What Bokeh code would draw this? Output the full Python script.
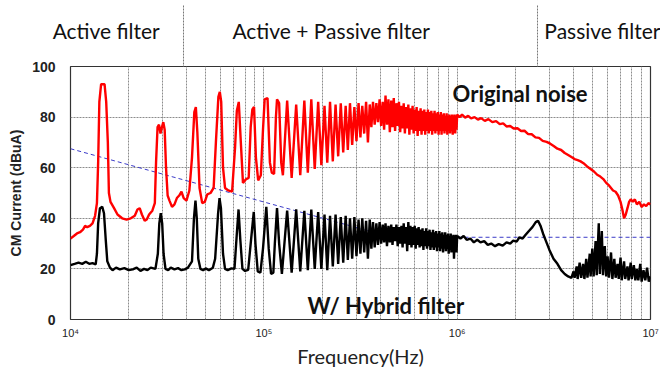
import numpy as np
from bokeh.plotting import figure
from bokeh.models import FixedTicker, Label, LogAxis
from bokeh.embed import file_html
from bokeh.resources import INLINE

# ---------------- data ----------------
# red "Original noise": low-frequency part (Hz, dBuA)
red_low_f = [1.0e4, 1.04e4, 1.08e4, 1.12e4, 1.16e4, 1.19e4, 1.22e4, 1.26e4, 1.3e4, 1.34e4,
             1.37e4, 1.39e4, 1.41e4, 1.44e4, 1.5e4, 1.53e4, 1.56e4, 1.58e4, 1.61e4, 1.68e4,
             1.75e4, 1.85e4, 1.95e4, 2.05e4, 2.15e4, 2.22e4, 2.28e4, 2.34e4, 2.42e4, 2.48e4,
             2.55e4, 2.65e4, 2.73e4, 2.77e4, 2.82e4, 2.87e4, 2.92e4, 2.97e4, 3.02e4, 3.07e4,
             3.12e4, 3.18e4, 3.25e4, 3.35e4, 3.45e4, 3.55e4, 3.65e4, 3.75e4, 3.85e4, 3.98e4,
             4.12e4, 4.25e4, 4.37e4, 4.45e4, 4.53e4, 4.65e4, 4.8e4, 4.95e4, 5.1e4, 5.3e4,
             5.5e4, 5.65e4, 5.82e4, 5.92e4, 6.02e4, 6.15e4, 6.3e4, 6.55e4, 6.85e4, 7.1e4,
             7.25e4, 7.42e4, 7.58e4, 7.8e4, 8.1e4, 8.35e4, 8.55e4, 8.72e4, 8.9e4, 9.1e4,
             9.35e4, 9.65e4, 9.9e4, 1.01e5, 1.045e5, 1.075e5, 1.1e5, 1.13e5, 1.155e5, 1.17e5,
             1.2e5, 1.23e5, 1.255e5]
red_low_v = [32, 33, 34, 34.5, 35.5, 37, 36.5, 37, 38, 41,
             46, 62, 86, 93, 93, 86, 70, 50, 46.5, 44,
             41.5, 40, 39.5, 40, 41, 43.5, 44, 41.5, 39, 39.5,
             41.5, 43, 46, 62, 76, 77, 73.5, 76, 78, 75,
             60, 49, 47, 44.5, 45.5, 48, 49, 50.5, 48, 47,
             51, 64, 82, 84, 74, 52, 46, 46.5, 49.5, 50,
             52, 70, 88, 90, 86, 60, 52, 51, 50.5, 68,
             82.5, 86, 72, 54, 55.5, 56, 76, 83, 84, 64,
             55, 57, 75, 87, 87.5, 62, 58, 57.5, 80, 87,
             85.5, 62, 57]

# harmonic frequencies of the dense part (kHz)
harm_khz = [132, 147, 162, 176, 191, 206, 220, 235, 250, 265,
            279, 294, 309, 323, 338, 353, 367, 382, 397, 412,
            426, 441, 456, 470, 485, 500, 515, 529, 544, 559,
            573, 588, 603, 617, 632, 647, 662, 676, 691, 706,
            720, 735, 750, 764, 779, 794, 809, 823, 838, 853,
            867, 882, 897, 911, 926, 941, 956, 970, 985]
red_peak = [86.5, 85, 86.5, 87, 86, 84.5, 86, 85, 85.5, 84.5,
            85.5, 84, 85.5, 84.5, 86, 85, 86, 85.5, 87, 86,
            88.5, 87, 86.5, 87.5, 85.5, 86, 84.5, 85.5, 84, 85,
            83.5, 84.5, 83, 84, 82.5, 83.5, 82.5, 83, 82, 83,
            82, 82.5, 81.5, 82.5, 81.5, 82, 81, 82, 81, 81.5,
            80.5, 81.5, 80.5, 81, 80.5, 81, 80.5, 81, 80.5]
red_trough = [56, 57, 58, 59.5, 61, 62, 62.5, 64.5, 66, 67,
              69, 70.5, 72, 73.5, 70, 76, 77, 78, 76.5, 75,
              77, 74, 76, 74.5, 76.5, 74, 75.5, 73.5, 75.5, 73,
              75, 73.5, 74.5, 72.5, 74.5, 73, 74.5, 73, 74.5, 73.5,
              74.5, 73, 74.5, 73.5, 74.5, 73, 74.5, 73, 74.5, 73.5,
              74.5, 73, 74.5, 73.5, 74.5, 73, 74.5, 73.5, 75]

red_high_f = [1.0e6, 1.03e6, 1.06e6, 1.1e6, 1.14e6, 1.18e6, 1.23e6, 1.28e6, 1.33e6, 1.39e6,
              1.45e6, 1.52e6, 1.59e6, 1.66e6, 1.73e6, 1.8e6, 1.88e6, 1.96e6, 2.05e6, 2.14e6,
              2.23e6, 2.33e6, 2.43e6, 2.54e6, 2.65e6, 2.77e6, 2.9e6, 3.03e6, 3.17e6, 3.3e6,
              3.45e6, 3.6e6, 3.75e6, 3.9e6, 4.05e6, 4.2e6, 4.35e6, 4.5e6, 4.7e6, 4.9e6,
              5.1e6, 5.3e6, 5.5e6, 5.7e6, 5.9e6, 6.1e6, 6.4e6, 6.6e6, 6.8e6, 7.0e6,
              7.15e6, 7.3e6, 7.45e6, 7.6e6, 7.75e6, 7.9e6, 8.1e6, 8.3e6, 8.5e6, 8.75e6,
              9.0e6, 9.25e6, 9.5e6, 9.75e6, 1.0e7]
red_high_v = [81, 80, 81, 79.8, 80.5, 79.5, 80, 79, 79.6, 78.5,
              79.2, 78, 78.4, 77.2, 77.5, 76.3, 76.5, 75.5, 75.6, 74.5,
              74.6, 73.3, 73.2, 72, 71.8, 70.6, 70.2, 69.5, 68.5, 67.5,
              67, 65.8, 65, 64.2, 63.4, 63, 62.5, 61.8, 60.5, 59.5,
              58.5, 57.2, 56.5, 55.5, 54, 53, 51, 50.5, 49, 46.5,
              43.5, 40, 41.5, 44, 46.5, 47.5, 46.5, 47.5, 45.5, 46.5,
              44.5, 45.5, 44.8, 46, 45.5]

# black "W/ Hybrid filter"
blk_low_f = [1.0e4, 1.05e4, 1.1e4, 1.15e4, 1.2e4, 1.25e4, 1.3e4, 1.35e4, 1.37e4, 1.39e4,
             1.42e4, 1.46e4, 1.49e4, 1.52e4, 1.55e4, 1.6e4, 1.65e4, 1.72e4, 1.8e4, 1.9e4,
             2.0e4, 2.1e4, 2.2e4, 2.3e4, 2.4e4, 2.5e4, 2.6e4, 2.75e4, 2.83e4, 2.88e4,
             2.93e4, 2.98e4, 3.03e4, 3.1e4, 3.2e4, 3.3e4, 3.45e4, 3.6e4, 3.75e4, 3.9e4,
             4.05e4, 4.25e4, 4.35e4, 4.43e4, 4.5e4, 4.58e4, 4.7e4, 4.85e4, 5.0e4, 5.2e4,
             5.45e4, 5.6e4, 5.8e4, 5.9e4, 6.0e4, 6.15e4, 6.3e4, 6.5e4, 6.8e4, 7.05e4,
             7.25e4, 7.4e4, 7.55e4, 7.75e4, 8.0e4, 8.3e4, 8.6e4, 8.87e4, 9.05e4, 9.3e4,
             9.6e4, 9.9e4, 1.03e5, 1.06e5, 1.09e5, 1.12e5, 1.14e5, 1.17e5, 1.2e5, 1.24e5]
blk_low_v = [21.5, 22, 22.5, 22, 22.8, 22, 22.3, 21.8, 26, 38,
             44, 44.5, 42, 32, 23, 20.5, 19.5, 20.5, 19.8, 20.3,
             19.5, 19.8, 20.5, 19.2, 20, 19.5, 20.5, 20, 26, 38,
             42, 38, 26, 20, 19.5, 20.5, 19.8, 20.3, 19.5, 19.8,
             20.5, 23, 40, 47, 40, 24, 20, 19.5, 20.2, 19.5,
             20.5, 24, 42, 48, 44, 26, 20, 19.5, 20.2, 20,
             34, 43.5, 32, 20, 19.2, 19.6, 32, 42.5, 30, 19,
             18.5, 28, 44.5, 28, 18, 18.5, 30, 44, 30, 18]
blk_peak = [43, 43.5, 43, 43.5, 42.5, 41.5, 41, 41.5, 40.5, 41,
            40, 40.5, 39.5, 40, 39, 39.5, 38.5, 38, 38.5, 37.5,
            38, 37, 37.5, 36.5, 37.5, 36.5, 37, 38, 36.5, 38.5,
            37, 36.5, 37, 36, 36.5, 35.5, 36, 35, 36, 35,
            35.5, 34.5, 35.5, 34.5, 35, 34, 35, 34, 34.5, 33.5,
            34.5, 33.5, 34, 33, 34, 33, 33.5, 33, 33.5]
blk_trough = [18.5, 19, 19.5, 20, 20, 19.5, 21, 22, 22.5, 23.5,
              24, 25, 26, 26.5, 24, 28, 28.5, 29.5, 30, 30.5,
              29, 30.5, 29.5, 31, 29, 30, 28.5, 30, 27, 29.5,
              28.5, 29.5, 28, 29.5, 28.5, 29, 27.5, 29, 28, 29,
              27.5, 28.5, 27.5, 28.5, 27, 28.5, 27, 28, 26.5, 28,
              27, 28, 26, 27.5, 26.5, 27.5, 24, 27, 26.5]
blk_high_f = [1.0e6, 1.04e6, 1.08e6, 1.12e6, 1.17e6, 1.22e6, 1.27e6, 1.32e6, 1.38e6, 1.44e6,
              1.5e6, 1.57e6, 1.64e6, 1.72e6, 1.8e6, 1.88e6, 1.95e6, 2.03e6, 2.1e6, 2.18e6,
              2.26e6, 2.35e6, 2.45e6, 2.55e6, 2.62e6, 2.7e6, 2.78e6, 2.88e6, 3.0e6, 3.15e6,
              3.3e6, 3.45e6, 3.6e6, 3.75e6, 3.9e6, 4.0e6, 4.05e6, 4.15e6, 4.2e6, 4.3e6,
              4.38e6, 4.48e6, 4.55e6, 4.65e6, 4.72e6, 4.85e6, 4.9e6, 5.0e6, 5.08e6, 5.2e6,
              5.27e6, 5.4e6, 5.47e6, 5.6e6, 5.68e6, 5.8e6, 5.9e6, 6.0e6, 6.1e6, 6.25e6,
              6.35e6, 6.5e6, 6.6e6, 6.75e6, 6.85e6, 7.0e6, 7.1e6, 7.3e6, 7.4e6, 7.6e6,
              7.7e6, 7.9e6, 8.0e6, 8.2e6, 8.35e6, 8.5e6, 8.65e6, 8.85e6, 9.0e6, 9.2e6,
              9.4e6, 9.6e6, 9.8e6, 1.0e7]
blk_high_v = [33, 32, 33, 31.5, 32, 30.5, 31.5, 30.5, 31, 29.5,
              30, 29, 29.8, 29.2, 30.5, 30, 31.2, 30.8, 32.5, 32,
              33.5, 35, 36.5, 38.5, 39, 37, 34, 31, 27.5, 24,
              22, 19.5, 18, 17, 16.5, 19, 16.5, 21, 16, 22.5,
              16.5, 22, 16, 24, 16.5, 26, 17, 28, 17, 31,
              17.5, 38, 18, 35, 17.5, 29, 17, 25, 16.5, 26.5,
              16, 24, 16.5, 22, 16, 24.5, 15.5, 23, 16, 21,
              15.5, 22.5, 16, 21.5, 15.5, 20, 15.5, 22, 15, 19.5,
              15.5, 20.5, 15, 17]

# blue dashed limit
lim_f = [1.0e4, 4.6e5, 1.0e7]
lim_v = [67.5, 32.5, 32.5]

y_ticks = [0, 20, 40, 60, 80, 100]
x_major = [10000, 100000, 1000000, 10000000]
x_labels = ["10\u2074", "10\u2075", "10\u2076", "10\u2077"]
# filter regions shown above the plot
region_names = ["Active filter", "Active + Passive filter", "Passive filter"]
region_label_f = [15300, 223000, 5800000]
region_bounds = [3.85e4, 2.6e6]


def build(low_f, low_v, peaks, troughs, high_f, high_v):
    hf = [k * 1e3 for k in harm_khz]
    xs, ys = list(low_f), list(low_v)
    for i, f in enumerate(hf):
        nxt = hf[i + 1] if i + 1 < len(hf) else high_f[0]
        xs += [f, np.sqrt(f * nxt)]
        ys += [peaks[i], troughs[i]]
    xs += list(high_f)
    ys += list(high_v)
    return xs, ys


rx, ry = build(red_low_f, red_low_v, red_peak, red_trough, red_high_f, red_high_v)
bx, by = build(blk_low_f, blk_low_v, blk_peak, blk_trough, blk_high_f, blk_high_v)

p = figure(width=660, height=370, x_axis_type="log", x_range=(1e4, 1e7), y_range=(0, 100),
           output_backend="svg", toolbar_location=None,
           min_border_left=70, min_border_right=10, min_border_top=66, min_border_bottom=51)
p.background_fill_color = "white"
p.border_fill_color = "white"
p.outline_line_color = "#333333"
p.outline_line_width = 1.2

xax = p.below[0]
yax = p.left[0]
minor = [m * d for d in [1e4, 1e5, 1e6] for m in range(2, 10)]
xax.ticker = FixedTicker(ticks=x_major, minor_ticks=minor)
xax.major_label_overrides = {t: s for t, s in zip(x_major, x_labels)}
yax.ticker = FixedTicker(ticks=y_ticks)

for ax in (xax, yax):
    ax.axis_line_color = None
    ax.major_tick_line_color = None
    ax.minor_tick_line_color = None

xax.major_label_text_font = "Liberation Sans"
xax.major_label_text_font_size = "11px"
xax.major_label_text_color = "#222222"
xax.major_label_standoff = 1
xax.axis_label = "Frequency(Hz)"
xax.axis_label_text_font = "Lato"
xax.axis_label_text_font_style = "normal"
xax.axis_label_text_font_size = "20px"
xax.axis_label_text_color = "#222222"
xax.axis_label_standoff = 2

yax.major_label_text_font = "Liberation Sans"
yax.major_label_text_font_style = "bold"
yax.major_label_text_font_size = "14px"
yax.major_label_text_color = "#222222"
yax.major_label_standoff = 9
yax.axis_label = "CM Current (dBuA)"
yax.axis_label_text_font = "Liberation Sans"
yax.axis_label_text_font_style = "bold"
yax.axis_label_text_font_size = "14px"
yax.axis_label_text_color = "#222222"
yax.axis_label_standoff = 5

p.xgrid.grid_line_color = "#8c8c8c"
p.xgrid.grid_line_dash = "2 1"
p.xgrid.minor_grid_line_color = "#8c8c8c"
p.xgrid.minor_grid_line_dash = "2 1"
p.ygrid.grid_line_color = "#8c8c8c"
p.ygrid.grid_line_dash = "2 1"

p.line(lim_f, lim_v, line_color="#3b3bc8", line_width=1, line_dash="4 3")
p.line(rx, ry, line_color="#ff0000", line_width=2.4)
p.line(bx, by, line_color="#000000", line_width=2.4)

p.add_layout(Label(x=9.47e5, y=89.3, text="Original noise", text_font="Lato",
                   text_font_style="bold", text_font_size="22px", text_baseline="alphabetic",
                   text_color="#111111"))
p.add_layout(Label(x=1.68e5, y=5.5, text="W/ Hybrid filter", text_font="Lato",
                   text_font_style="bold", text_font_size="22px", text_baseline="alphabetic",
                   text_color="#111111"))

# region names (as tick labels of an axis above) and region separators (its minor ticks)
top_ax = LogAxis(ticker=FixedTicker(ticks=region_label_f, minor_ticks=region_bounds),
                 major_label_overrides={t: s for t, s in zip(region_label_f, region_names)})
top_ax.axis_line_color = None
top_ax.major_tick_line_color = None
top_ax.major_tick_out = 0
top_ax.major_tick_in = 0
top_ax.minor_tick_in = 0
top_ax.minor_tick_out = 61
top_ax.minor_tick_line_color = "#777777"
top_ax.minor_tick_line_width = 1
top_ax.minor_tick_line_dash = "2 1"
top_ax.major_label_standoff = -37
top_ax.major_label_text_font = "Lato"
top_ax.major_label_text_font_size = "21px"
top_ax.major_label_text_color = "#111111"
p.add_layout(top_ax, "above")

open("out.html", "w").write(file_html(p, INLINE))
